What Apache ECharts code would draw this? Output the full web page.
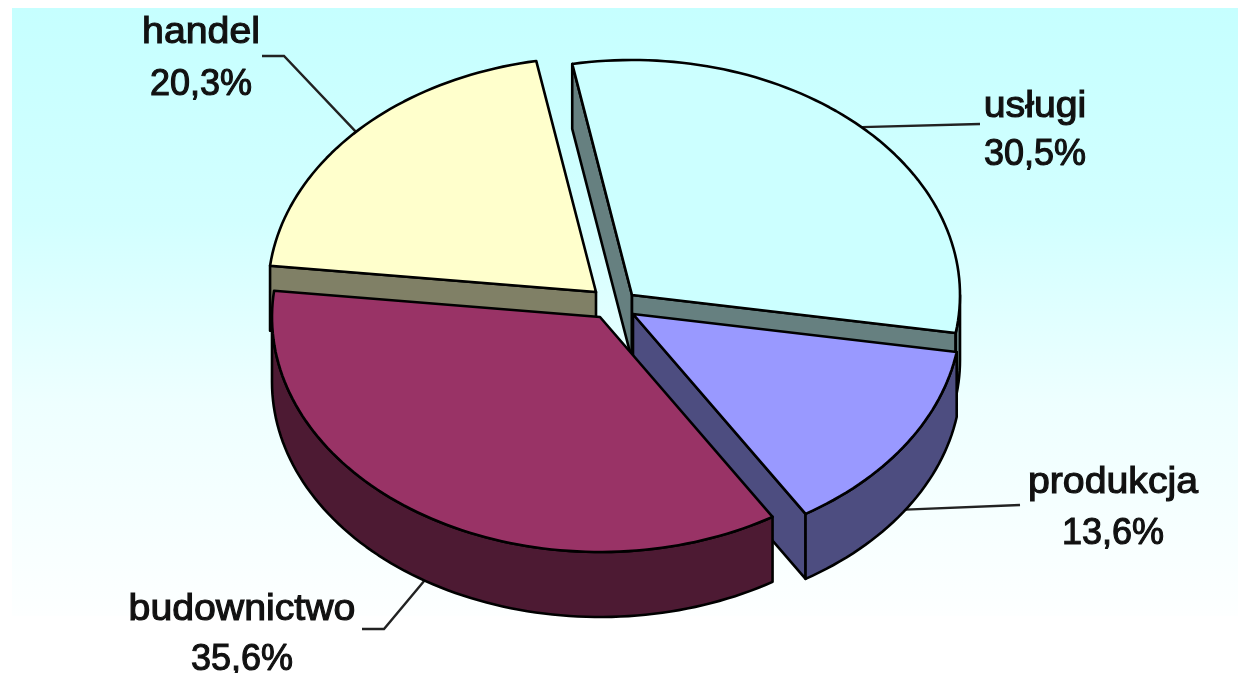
<!DOCTYPE html>
<html>
<head>
<meta charset="utf-8">
<style>html,body{margin:0;padding:0;background:#fff}#c{width:1238px;height:673px}</style>
<script src="https://cdn.jsdelivr.net/npm/echarts@6/dist/echarts.min.js"></script>
</head>
<body>
<div id="c"></div>
<script>
const categories = ['usługi', 'produkcja', 'budownictwo', 'handel'];
const shares = [30.5, 13.6, 35.6, 20.3];
const topColors = ['#CCFFFF', '#9999FF', '#993366', '#FFFFCC'];
const wallColors = ['#668080', '#4D4D80', '#4D1A33', '#808066'];

// layout of the exploded 3D pie
const startAngle = -100.5;
const radiusX = 328, radiusY = 235, depth = 65;
const apexes = [[632, 295], [633, 314], [600, 317], [596, 292]];
const paintOrder = [0, 3, 1, 2];
const labelX = [1035, 1113, 242, 201];
const nameY = [107, 483, 610, 33];
const pctY = [155, 534, 660, 85];
const leaderElbows = [null, null, [384, 629], [284, 56]];
const leaderEnds = [[980, 124], [1020, 505], [362, 629], [262, 56]];
const leaderRimDepth = [0, 1, 1, 0];

const rad = d => d * Math.PI / 180;
const total = shares.reduce((a, b) => a + b, 0);
const angles = [];
shares.reduce((acc, v) => {
  const next = acc + v / total * 360;
  angles.push([acc, next]);
  return next;
}, startAngle);

function rim(i, t, drop) {
  return [apexes[i][0] + radiusX * Math.cos(rad(t)),
          apexes[i][1] + radiusY * Math.sin(rad(t)) + (drop || 0)];
}
function arc(i, a, b, drop) {
  const pts = [];
  const n = Math.max(2, Math.ceil(Math.abs(b - a) / 1.5));
  for (let k = 0; k <= n; k++) pts.push(rim(i, a + (b - a) * k / n, drop));
  return pts;
}
const edge = { stroke: '#000', lineWidth: 2.6, lineJoin: 'round' };
const labelFont = '36px "Liberation Sans", Arial, sans-serif';

function renderSlice(params, api) {
  const i = params.dataIndex;
  const [a, b] = angles[i];
  const ap = apexes[i];
  const z = (paintOrder.indexOf(i) + 1) * 10;
  const poly = (points, fill, z2) => ({
    type: 'polygon', shape: { points },
    style: Object.assign({ fill }, edge), z2, silent: true
  });
  const children = [];
  // cut faces: keep only those that turn towards the viewer
  const startFaces = Math.cos(rad(a)) < 0, endFaces = Math.cos(rad(b)) > 0;
  [[a, startFaces], [b, endFaces]].forEach(([t, faces], k) => {
    if (!faces) return;
    const r = rim(i, t);
    children.push(poly([ap, r, [r[0], r[1] + depth], [ap[0], ap[1] + depth]], wallColors[i], z + k));
  });
  // outer wall: only the front half of the rim faces the viewer
  const from = Math.max(a, 0), to = Math.min(b, 180);
  if (to > from) {
    children.push(poly(arc(i, from, to, 0).concat(arc(i, to, from, depth)), wallColors[i], z + 3));
  }
  children.push(poly([ap].concat(arc(i, a, b, 0)), topColors[i], z + 4));

  // leader line from the rim at the middle of the slice
  const mid = (a + b) / 2;
  const pts = [rim(i, mid, leaderRimDepth[i] * depth)];
  if (leaderElbows[i]) pts.push(leaderElbows[i]);
  pts.push(leaderEnds[i]);
  children.push({
    type: 'polyline', shape: { points: pts },
    style: { stroke: '#222', lineWidth: 2.4, fill: null }, z2: 1, silent: true
  });

  // labels
  const pct = api.value(0).toFixed(1).replace('.', ',') + '%';
  const textStyle = text => ({
    text, font: labelFont, fill: '#111', stroke: '#111', lineWidth: 1.1,
    align: 'center', verticalAlign: 'middle'
  });
  children.push({
    type: 'text', x: labelX[i], y: nameY[i], scaleX: 1.09, z2: 100, silent: true,
    style: textStyle(categories[i])
  });
  children.push({
    type: 'text', x: labelX[i], y: pctY[i], z2: 100, silent: true,
    style: textStyle(pct)
  });
  return { type: 'group', children };
}

const chart = echarts.init(document.getElementById('c'), null, { renderer: 'canvas' });
chart.setOption({
  animation: false,
  backgroundColor: '#fff',
  graphic: [{
    type: 'rect', z: -1, silent: true,
    shape: { x: 12, y: 8, width: 1226, height: 608 },
    style: {
      fill: new echarts.graphic.LinearGradient(0, 0, 0, 1, [
        { offset: 0, color: '#C6FFFF' },
        { offset: 0.35, color: '#D2FFFF' },
        { offset: 0.65, color: '#EEFFFF' },
        { offset: 1, color: '#FDFFFF' }
      ])
    }
  }],
  series: [{
    type: 'custom',
    coordinateSystem: 'none',
    renderItem: renderSlice,
    data: shares.map((v, i) => ({ name: categories[i], value: [v] })),
    clip: false
  }]
});
</script>
</body>
</html>
